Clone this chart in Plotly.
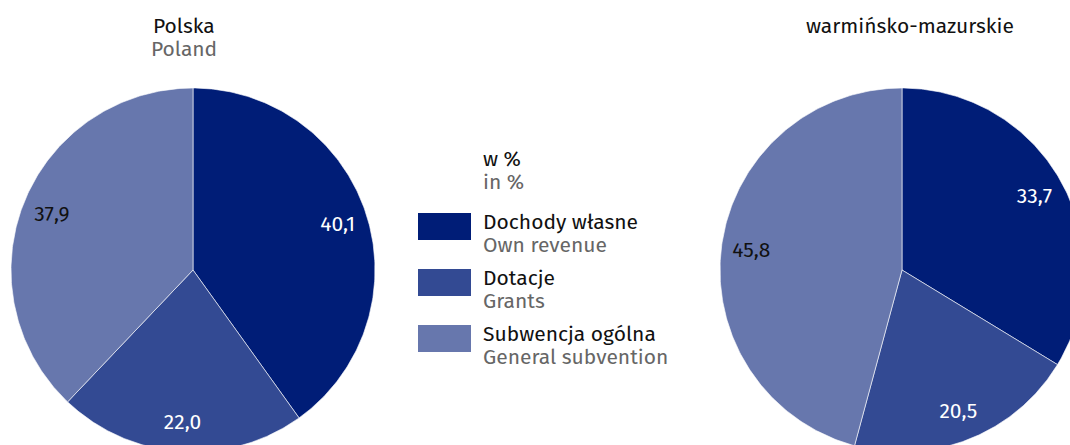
import numpy as np
import plotly.graph_objects as go

categories_pl = ["Dochody własne", "Dotacje", "Subwencja ogólna"]
categories_en = ["Own revenue", "Grants", "General subvention"]
regions_pl = ["Polska", "warmińsko-mazurskie"]
regions_en = ["Poland", ""]
values_polska = [40.1, 22.0, 37.9]
values_warm = [33.7, 20.5, 45.8]
unit_pl = "w %"
unit_en = "in %"

colors = ["#001D77", "#334A93", "#6777AD"]
label_colors = ["white", "white", "#111111"]

W, H = 1070, 445
R = 182
centers = [(193, 270), (902, 270)]
FONT = "Fira Sans, Noto Sans, sans-serif"
FS = 21
GRAY = "#666666"
BLACK = "#111111"

fig = go.Figure()

def fmt(v):
    return f"{v:.1f}".replace(".", ",")

for (cx, cy), vals in zip(centers, [values_polska, values_warm]):
    total = sum(vals)
    start = 0.0
    for i, v in enumerate(vals):
        a0 = start / total * 2 * np.pi
        a1 = (start + v) / total * 2 * np.pi
        t = np.linspace(a0, a1, 200)
        xs = np.concatenate([[cx], cx + R * np.sin(t), [cx]])
        ys = np.concatenate([[cy], cy - R * np.cos(t), [cy]])
        fig.add_trace(go.Scatter(x=xs, y=ys, mode="lines", fill="toself",
                                 fillcolor=colors[i],
                                 line=dict(color="white", width=0.6),
                                 hoverinfo="skip", showlegend=False))
        am = (a0 + a1) / 2
        rl = 0.835 * R
        fig.add_trace(go.Scatter(x=[cx + rl * np.sin(am)], y=[cy + 2 - rl * np.cos(am)],
                                 mode="text", text=[fmt(v)],
                                 textfont=dict(family=FONT, size=FS, color=label_colors[i]),
                                 hoverinfo="skip", showlegend=False))
        start += v

fig.update_xaxes(range=[0, W], visible=False, fixedrange=True)
fig.update_yaxes(range=[H, 0], visible=False, fixedrange=True)

annotations = []

def add_text(x, y_base, text, color, xanchor):
    annotations.append(dict(x=x, y=y_base - 7, xref="x", yref="y", text=text,
                            showarrow=False, xanchor=xanchor, yanchor="middle",
                            font=dict(family=FONT, size=FS, color=color)))

# titles
title_x = [184, 910]
for tx, tpl, ten in zip(title_x, regions_pl, regions_en):
    add_text(tx, 33, tpl, BLACK, "center")
    if ten:
        add_text(tx, 56, ten, GRAY, "center")

# legend
lx, tx = 418, 481
add_text(tx, 166, unit_pl, BLACK, "left")
add_text(tx, 189, unit_en, GRAY, "left")
shapes = []
for i, (cp, ce) in enumerate(zip(categories_pl, categories_en)):
    y = 213 + i * 56
    shapes.append(dict(type="rect", xref="x", yref="y", x0=lx, x1=lx + 53, y0=y, y1=y + 27,
                       fillcolor=colors[i], line=dict(width=0)))
    add_text(tx, y + 16, cp, BLACK, "left")
    add_text(tx, y + 39, ce, GRAY, "left")

fig.update_layout(width=W, height=H, margin=dict(l=0, r=0, t=0, b=0),
                  paper_bgcolor="white", plot_bgcolor="white",
                  annotations=annotations, shapes=shapes, showlegend=False)

fig.write_html("out.html", config={"displayModeBar": False},
               post_script="document.body.style.margin='0';document.body.style.overflow='hidden';")
